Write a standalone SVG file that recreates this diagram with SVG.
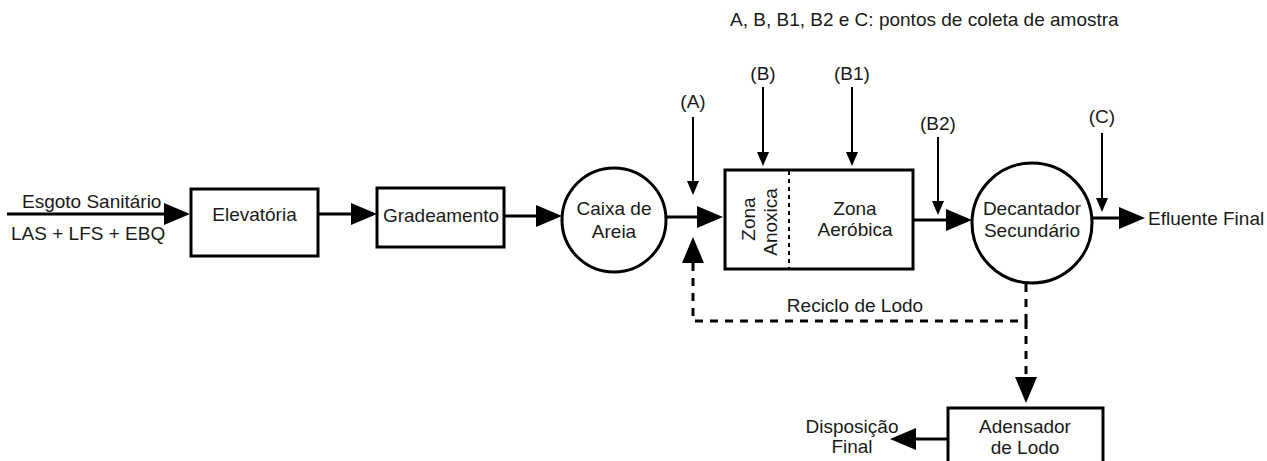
<svg xmlns="http://www.w3.org/2000/svg" width="1267" height="461" viewBox="0 0 1267 461">
<defs>
<style>
text{font-family:"Liberation Sans",Arial,sans-serif;font-size:19px;fill:#1a1a1a}
.c{text-anchor:middle}
.box{fill:#fff;stroke:#000;stroke-width:3}
.ln{stroke:#000;stroke-width:3;fill:none}
.sm{stroke:#000;stroke-width:2;fill:none}
.dash{stroke:#000;stroke-width:3;fill:none;stroke-dasharray:8 7}
</style>
<marker id="big" markerUnits="userSpaceOnUse" markerWidth="26" markerHeight="22" refX="22" refY="11" orient="auto" viewBox="0 0 26 22">
<path d="M0,0 L26,11 L0,22 z" fill="#000"/>
</marker>
<marker id="small" markerUnits="userSpaceOnUse" markerWidth="14" markerHeight="12" refX="11" refY="6" orient="auto" viewBox="0 0 14 12">
<path d="M0,0 L14,6 L0,12 z" fill="#000"/>
</marker>
</defs>
<rect width="1267" height="461" fill="#fff"/>

<text x="730" y="26" font-size="18">A, B, B1, B2 e C: pontos de coleta de amostra</text>

<g id="connectors">
<line class="ln" x1="7" y1="214" x2="186" y2="214" marker-end="url(#big)"/>
<line class="ln" x1="318" y1="214" x2="373" y2="214" marker-end="url(#big)"/>
<line class="ln" x1="504" y1="216" x2="558" y2="216" marker-end="url(#big)"/>
<line class="ln" x1="667" y1="217" x2="719" y2="217" marker-end="url(#big)"/>
<line class="ln" x1="913" y1="220" x2="968" y2="220" marker-end="url(#big)"/>
<line class="ln" x1="1092" y1="218" x2="1141" y2="218" marker-end="url(#big)"/>
<line class="ln" x1="948" y1="439" x2="894" y2="439" marker-end="url(#big)"/>
<path class="dash" d="M1026,284 L1026,321 L693,321 L693,262"/>
<line class="ln" x1="693" y1="262" x2="693" y2="241" marker-end="url(#big)"/>
<line class="dash" x1="1026" y1="321" x2="1026" y2="380"/>
<line class="ln" x1="1026" y1="380" x2="1026" y2="399" marker-end="url(#big)"/>
<line class="sm" x1="693" y1="117" x2="693" y2="192" marker-end="url(#small)"/>
<line class="sm" x1="763" y1="87" x2="763" y2="163" marker-end="url(#small)"/>
<line class="sm" x1="852" y1="87" x2="852" y2="163" marker-end="url(#small)"/>
<line class="sm" x1="938" y1="137" x2="938" y2="212" marker-end="url(#small)"/>
<line class="sm" x1="1102" y1="133" x2="1102" y2="209" marker-end="url(#small)"/>
</g>

<g id="labels">
<text x="22" y="208">Esgoto Sanitário</text>
<text x="11" y="240">LAS + LFS + EBQ</text>
<text class="c" x="693" y="108">(A)</text>
<text class="c" x="763" y="80">(B)</text>
<text class="c" x="852" y="80">(B1)</text>
<text class="c" x="938" y="130">(B2)</text>
<text class="c" x="1102" y="123">(C)</text>
<text x="1148" y="225">Efluente Final</text>
<text class="c" x="855" y="312">Reciclo de Lodo</text>
<text class="c" x="852" y="433">Disposição</text>
<text class="c" x="852" y="453">Final</text>
</g>

<g id="elevatoria">
<rect class="box" x="191" y="189" width="127" height="67"/>
<text class="c" x="254.5" y="221">Elevatória</text>
</g>

<g id="gradeamento">
<rect class="box" x="377" y="188" width="127" height="59"/>
<text class="c" x="441" y="222">Gradeamento</text>
</g>

<g id="caixa">
<circle class="box" cx="614" cy="220" r="52"/>
<text class="c" x="614" y="215">Caixa de</text>
<text class="c" x="614" y="238">Areia</text>
</g>

<g id="reator">
<rect class="box" x="725" y="170" width="188" height="99"/>
<line x1="789" y1="171" x2="789" y2="268" stroke="#000" stroke-width="2" stroke-dasharray="4 4"/>
<text class="c" transform="translate(755,219) rotate(-90)">Zona</text>
<text class="c" transform="translate(777,222) rotate(-90)">Anoxica</text>
<text class="c" x="855" y="215">Zona</text>
<text class="c" x="855" y="236">Aeróbica</text>
</g>

<g id="decantador">
<circle class="box" cx="1032" cy="223" r="60"/>
<text class="c" x="1032" y="215">Decantador</text>
<text class="c" x="1032" y="237">Secundário</text>
</g>

<g id="adensador">
<rect class="box" x="948" y="408" width="155" height="70"/>
<text class="c" x="1025" y="433">Adensador</text>
<text class="c" x="1025" y="454">de Lodo</text>
</g>
</svg>
